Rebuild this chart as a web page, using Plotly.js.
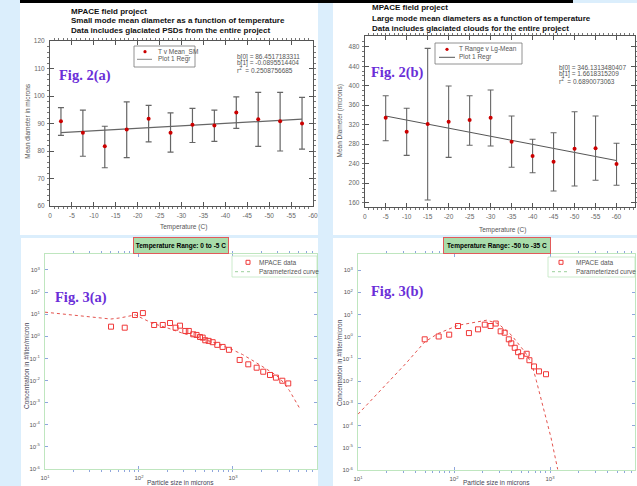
<!DOCTYPE html>
<html><head><meta charset="utf-8">
<script src="https://cdn.plot.ly/plotly-3.0.1.min.js"></script>
<style>html,body{margin:0;padding:0;background:#dbeefc;}#chart{width:637px;height:486px;}</style>
</head><body><div id="chart"></div>
<script>
// ---------- Fig. 2(a): small mode mean diameter ----------
const tempA = [-2.5, -7.5, -12.5, -17.5, -22.5, -27.5, -32.5, -37.5, -42.5, -47.5, -52.5, -57.5];
const meanSM = [90.8, 86.6, 81.7, 87.8, 91.7, 86.6, 89.5, 89.3, 94.0, 91.5, 90.8, 90.0];
const errUpSM = [5.0, 8.3, 7.3, 10.1, 4.9, 7.3, 6.0, 5.6, 5.7, 9.8, 10.5, 9.5];
const errDnSM = [5.1, 8.5, 7.8, 10.2, 8.4, 7.0, 6.4, 5.8, 5.8, 9.8, 10.8, 9.3];
const regAx = [-2.5, -57.5];
const regAy = [86.7, 91.6];
const tickTA = [0, -5, -10, -15, -20, -25, -30, -35, -40, -45, -50, -55, -60];
const tickTAtext = ['0', '-5', '-10', '-15', '-20', '-25', '-30', '-35', '-40', '-45', '-50', '-55', '-60'];
const tickYA = [60, 70, 80, 90, 100, 110, 120];

// ---------- Fig. 2(b): large mode mean diameter ----------
const tempB = [-5, -10, -15, -20, -25, -30, -35, -40, -45, -50, -55, -60];
const meanLG = [334.4, 305.6, 321.4, 326.0, 329.6, 334.4, 285.1, 255.8, 244.1, 270.8, 271.6, 239.4];
const errUpLG = [45.1, 48.0, 155.3, 73.4, 49.9, 56.8, 52.7, 34.2, 59.5, 75.9, 66.2, 42.4];
const errDnLG = [47.2, 48.6, 155.8, 73.0, 51.9, 58.1, 52.5, 34.3, 60.1, 76.5, 65.6, 43.7];
const regBx = [-5, -60];
const regBy = [337.8, 246.4];
const tickYB = [160, 200, 240, 280, 320, 360, 400, 440, 480];

// ---------- Fig. 3(a): 0 to -5 C ----------
const sizeA = [50.4, 70.5, 90.6, 110, 145, 179, 214, 245, 273, 311, 339, 378, 410, 446, 476, 507, 551, 608, 681, 776, 906, 1178, 1455, 1786, 2099, 2477, 2864, 3350, 3873];
const concA = [2.72, 2.45, 9.2, 11.2, 3.24, 3.24, 3.98, 2.45, 3.02, 1.74, 1.74, 1.23, 1.15, 0.93, 0.87, 0.66, 0.62, 0.54, 0.41, 0.33, 0.245, 0.085, 0.054, 0.038, 0.025, 0.0178, 0.0135, 0.0098, 0.0074];
const curveSizeA = [10, 15.8, 25.1, 39.8, 50.1, 63.1, 79.4, 91.2, 112, 141, 200, 295, 398, 525, 708, 1000, 1259, 1585, 2089, 2630, 3162, 3981, 5129];
const curveConcA = [12.3, 10, 7.94, 6.31, 6.03, 6.76, 8.51, 9.33, 6.03, 3.80, 2.40, 1.35, 0.955, 0.676, 0.447, 0.240, 0.151, 0.0851, 0.0427, 0.0224, 0.0126, 0.00355, 0.00055];

// ---------- Fig. 3(b): -50 to -35 C ----------
const sizeB = [49.5, 69.2, 89.1, 110, 143, 178, 209, 240, 272, 306, 337, 372, 395, 429, 465, 501, 571, 610, 681, 767, 908];
const concB = [0.76, 1.02, 1.23, 3.02, 1.45, 2.14, 3.47, 3.02, 3.89, 1.74, 1.51, 0.76, 0.50, 0.316, 0.20, 0.132, 0.17, 0.087, 0.0457, 0.0275, 0.0204];
const curveSizeB = [10, 19.0, 31.6, 49.5, 68.1, 110, 151, 219, 288, 398, 550, 646, 720, 811, 1023, 1202];
const curveConcB = [3.24e-4, 6.3e-3, 0.063, 0.575, 1.38, 3.24, 4.27, 5.5, 3.89, 1.15, 0.2, 0.060, 0.0105, 0.00132, 2.9e-5, 1.07e-6];

const logTickVals = [1e-6, 1e-5, 1e-4, 1e-3, 1e-2, 1e-1, 1, 10, 100, 1000];
const logTickText = ['10<sup>-6</sup>', '10<sup>-5</sup>', '10<sup>-4</sup>', '10<sup>-3</sup>', '10<sup>-2</sup>', '10<sup>-1</sup>', '10<sup>0</sup>', '10<sup>1</sup>', '10<sup>2</sup>', '10<sup>3</sup>'];
const sizeTickVals = [10, 100, 1000];
const sizeTickText = ['10<sup>1</sup>', '10<sup>2</sup>', '10<sup>3</sup>'];

// ---------- layout helpers ----------
const W = 637, H = 486;
const px = x => x / W;
const py = y => 1 - y / H;
const SANS = 'Liberation Sans, Arial, sans-serif';
const SERIF = 'Liberation Serif, Times New Roman, serif';
const FIGC = '#6a2ed8';

function ax(extra) {
  return Object.assign({
    showgrid: false, zeroline: false, showline: true, mirror: 'allticks',
    ticks: 'inside', ticklen: 4, tickwidth: 1, linewidth: 1,
    ticklabelstandoff: 3,
    tickfont: {family: SANS, size: 6.5, color: '#666'}, fixedrange: true
  }, extra);
}

const traces = [
  {x: regAx, y: regAy, xaxis: 'x', yaxis: 'y', mode: 'lines', line: {color: '#666', width: 1.2}, showlegend: false, hoverinfo: 'skip'},
  {x: tempA, y: meanSM, xaxis: 'x', yaxis: 'y', mode: 'markers', marker: {color: '#cc0000', size: 4},
   error_y: {type: 'data', symmetric: false, array: errUpSM, arrayminus: errDnSM, color: '#666', thickness: 1.2, width: 3}, showlegend: false},
  {x: regBx, y: regBy, xaxis: 'x2', yaxis: 'y2', mode: 'lines', line: {color: '#555', width: 1}, showlegend: false, hoverinfo: 'skip'},
  {x: tempB, y: meanLG, xaxis: 'x2', yaxis: 'y2', mode: 'markers', marker: {color: '#cc0000', size: 4},
   error_y: {type: 'data', symmetric: false, array: errUpLG, arrayminus: errDnLG, color: '#666', thickness: 1.1, width: 3}, showlegend: false},
  {x: curveSizeA, y: curveConcA, xaxis: 'x3', yaxis: 'y3', mode: 'lines', line: {color: '#e0403a', width: 0.9, dash: 'dot'}, showlegend: false},
  {x: sizeA, y: concA, xaxis: 'x3', yaxis: 'y3', mode: 'markers', marker: {symbol: 'square-open', color: '#f03838', size: 5, line: {width: 1}}, showlegend: false},
  {x: curveSizeB, y: curveConcB, xaxis: 'x4', yaxis: 'y4', mode: 'lines', line: {color: '#e0403a', width: 0.9, dash: 'dot'}, showlegend: false},
  {x: sizeB, y: concB, xaxis: 'x4', yaxis: 'y4', mode: 'markers', marker: {symbol: 'square-open', color: '#f03838', size: 5, line: {width: 1}}, showlegend: false}
];

const greenAxis = {linecolor: '#bfe6bf', tickcolor: '#8fa6dc', ticklen: 3, tickfont: {family: SANS, size: 6, color: '#555'}};

const layout = {
  width: W, height: H,
  margin: {l: 0, r: 0, t: 0, b: 0, pad: 0},
  paper_bgcolor: '#dbeefc', plot_bgcolor: '#ffffff',
  showlegend: false,
  xaxis: ax({domain: [px(50), px(313)], range: [0, -60], anchor: 'y', tickmode: 'array', tickvals: tickTA, ticktext: tickTAtext,
    linecolor: '#555', tickcolor: '#555', minor: {dtick: 1, ticklen: 2, tickcolor: '#777'}}),
  yaxis: ax({domain: [py(206), py(41)], range: [60, 120], anchor: 'x', tickmode: 'array', tickvals: tickYA,
    linecolor: '#555', tickcolor: '#555', minor: {dtick: 2, ticklen: 2, tickcolor: '#777'}}),
  xaxis2: ax({domain: [px(364.7), px(635)], range: [0, -64.4], anchor: 'y2', tickmode: 'array', tickvals: tickTA, ticktext: tickTAtext,
    linecolor: '#555', tickcolor: '#555', minor: {dtick: 1, ticklen: 2, tickcolor: '#777'}}),
  yaxis2: ax({domain: [py(207.3), py(36)], range: [150.5, 502], anchor: 'x2', tickmode: 'array', tickvals: tickYB,
    linecolor: '#555', tickcolor: '#555', minor: {dtick: 10, ticklen: 2, tickcolor: '#777'}}),
  xaxis3: ax(Object.assign({type: 'log', domain: [px(45), px(317)], range: [1, 3.894], anchor: 'y3', tickmode: 'array',
    tickvals: sizeTickVals, ticktext: sizeTickText, minor: {dtick: 'D1', ticklen: 2, tickcolor: '#8fa6dc'}}, greenAxis)),
  yaxis3: ax(Object.assign({type: 'log', domain: [py(469), py(254)], range: [-6, 3.72], anchor: 'x3', tickmode: 'array',
    tickvals: logTickVals, ticktext: logTickText}, greenAxis)),
  xaxis4: ax(Object.assign({type: 'log', domain: [px(358), px(635)], range: [1, 3.885], anchor: 'y4', tickmode: 'array',
    tickvals: sizeTickVals, ticktext: sizeTickText, minor: {dtick: 'D1', ticklen: 2, tickcolor: '#8fa6dc'}}, greenAxis)),
  yaxis4: ax(Object.assign({type: 'log', domain: [py(470), py(254)], range: [-6, 3.72], anchor: 'x4', tickmode: 'array',
    tickvals: logTickVals, ticktext: logTickText}, greenAxis)),
  shapes: [],
  annotations: []
};

// panel backgrounds
const panels = [[20, 3, 318, 235], [333, 3, 637, 235], [21, 238, 318, 486], [333, 238, 637, 486]];
panels.forEach(p => layout.shapes.push({type: 'rect', xref: 'paper', yref: 'paper', x0: px(p[0]), x1: px(p[2]), y0: py(p[3]), y1: py(p[1]),
  fillcolor: '#ffffff', line: {width: 0}, layer: 'below'}));
layout.shapes.push({type: 'rect', xref: 'paper', yref: 'paper', x0: px(20), x1: px(573), y0: py(3), y1: py(0), fillcolor: '#000', line: {width: 0}, layer: 'below'});

function txt(t, x, y, opt) {
  layout.annotations.push(Object.assign({text: t, xref: 'paper', yref: 'paper', x: px(x), y: py(y), showarrow: false,
    xanchor: 'left', yanchor: 'middle', font: {family: SANS, size: 6.5, color: '#555'}}, opt || {}));
}

// titles
const titleFont = {family: SANS, size: 8, color: '#111', weight: 'bold'};
txt('<b>MPACE field project</b>', 69, 11.7, {font: titleFont});
txt('<b>Small mode mean diameter as a function of temperature</b>', 69, 20.7, {font: titleFont});
txt('<b>Data includes glaciated PSDs from the entire project</b>', 69, 30.7, {font: titleFont});
txt('<b>MPACE field project</b>', 370, 7.5, {font: titleFont});
txt('<b>Large mode mean diameters as a function of temperature</b>', 370, 18.3, {font: titleFont});
txt('<b>Data includes glaciated clouds for the entire project</b>', 370, 28.3, {font: titleFont});

// fig labels
const figFont = {family: SERIF, size: 14.5, color: FIGC};
txt('<b>Fig. 2(a)</b>', 85, 75, {xanchor: 'center', font: figFont});
txt('<b>Fig. 2(b)</b>', 397, 72.5, {xanchor: 'center', font: figFont});
txt('<b>Fig. 3(a)</b>', 81, 297, {xanchor: 'center', font: figFont});
txt('<b>Fig. 3(b)</b>', 397, 291, {xanchor: 'center', font: figFont});

// axis titles
txt('Mean diameter in microns', 26.7, 121, {xanchor: 'center', textangle: -90});
txt('Temperature (C)', 183, 227, {xanchor: 'center'});
txt('Mean Diameter (microns)', 339.5, 121, {xanchor: 'center', textangle: -90});
txt('Temperature (C)', 503, 229.5, {xanchor: 'center'});
txt('Concentration in #/liter/micron', 26, 365, {xanchor: 'center', textangle: -90, font: {family: SANS, size: 6.5, color: '#445'}});
txt('Particle size in microns', 181, 482.2, {xanchor: 'center', font: {family: SANS, size: 6.5, color: '#445'}});
txt('Concentration in #/liter/micron', 339, 363, {xanchor: 'center', textangle: -90, font: {family: SANS, size: 6.5, color: '#445'}});
txt('Particle size in microns', 496, 482.2, {xanchor: 'center', font: {family: SANS, size: 6.5, color: '#445'}});

// regression stats
txt('b[0] = 86.4517183311', 235, 56.7);
txt('b[1] = -0.0895514404', 235, 63.3);
txt('r<sup>2</sup>  = 0.2508756685', 235, 70);
txt('b[0] = 346.1313480407', 557, 68.3);
txt('b[1] = 1.6618315209', 557, 74.3);
txt('r<sup>2</sup>  = 0.6890073063', 557, 80.7);

// legends (boxes + keys)
function box(x0, y0, x1, y1, col) {
  layout.shapes.push({type: 'rect', xref: 'paper', yref: 'paper', x0: px(x0), x1: px(x1), y0: py(y1), y1: py(y0),
    fillcolor: '#fff', line: {color: col, width: 0.8}});
}
function keyLine(x0, x1, y, col, dash) {
  layout.shapes.push({type: 'line', xref: 'paper', yref: 'paper', x0: px(x0), x1: px(x1), y0: py(y), y1: py(y), line: {color: col, width: 1, dash: dash || 'solid'}});
}
function keyDot(x, y) {
  layout.shapes.push({type: 'circle', xref: 'paper', yref: 'paper', x0: px(x - 1.6), x1: px(x + 1.6), y0: py(y + 1.6), y1: py(y - 1.6), fillcolor: '#cc0000', line: {width: 0}});
}
function keySq(x, y) {
  layout.shapes.push({type: 'rect', xref: 'paper', yref: 'paper', x0: px(x - 2), x1: px(x + 2), y0: py(y + 2), y1: py(y - 2), fillcolor: 'rgba(0,0,0,0)', line: {color: '#f03838', width: 1}});
}
box(134, 46, 195, 67, '#777');
keyDot(145, 51.7); txt('T v Mean_SM', 156, 51.7);
keyLine(137, 152, 59.3, '#888'); txt('Plot 1 Regr', 156, 59.3);
box(435, 43, 522, 64, '#777');
keyDot(447, 49.3); txt('T Range v Lg-Mean', 457, 49.3);
keyLine(439, 455, 57.3, '#555'); txt('Plot 1 Regr', 457, 57.3);
box(232, 256, 317, 277, '#bfe6bf');
keySq(248, 262.3); txt('MPACE data', 257, 262.3);
keyLine(235, 253, 271.7, '#9ccf9c', 'dot'); txt('Parameterized curve', 257, 271.7);
box(548, 257, 635, 277, '#bfe6bf');
keySq(561, 262.3); txt('MPACE data', 574, 262.3);
keyLine(552, 570, 271.7, '#9ccf9c', 'dot'); txt('Parameterized curve', 574, 271.7);

// temperature range boxes
const trFont = {family: SANS, size: 6.5, color: '#000'};
txt('<b>Temperature Range: 0 to -5 C</b>', 181, 245.5, {xanchor: 'center', font: trFont, bgcolor: '#a9dcaa', bordercolor: '#e25a5a', borderwidth: 1, width: 94, height: 15, borderpad: 0});
txt('<b>Temperature Range: -50 to -35 C</b>', 497, 245.5, {xanchor: 'center', font: trFont, bgcolor: '#a9dcaa', bordercolor: '#e25a5a', borderwidth: 1, width: 106, height: 15, borderpad: 0});

Plotly.newPlot('chart', traces, layout, {staticPlot: true, displayModeBar: false});
</script></body></html>
